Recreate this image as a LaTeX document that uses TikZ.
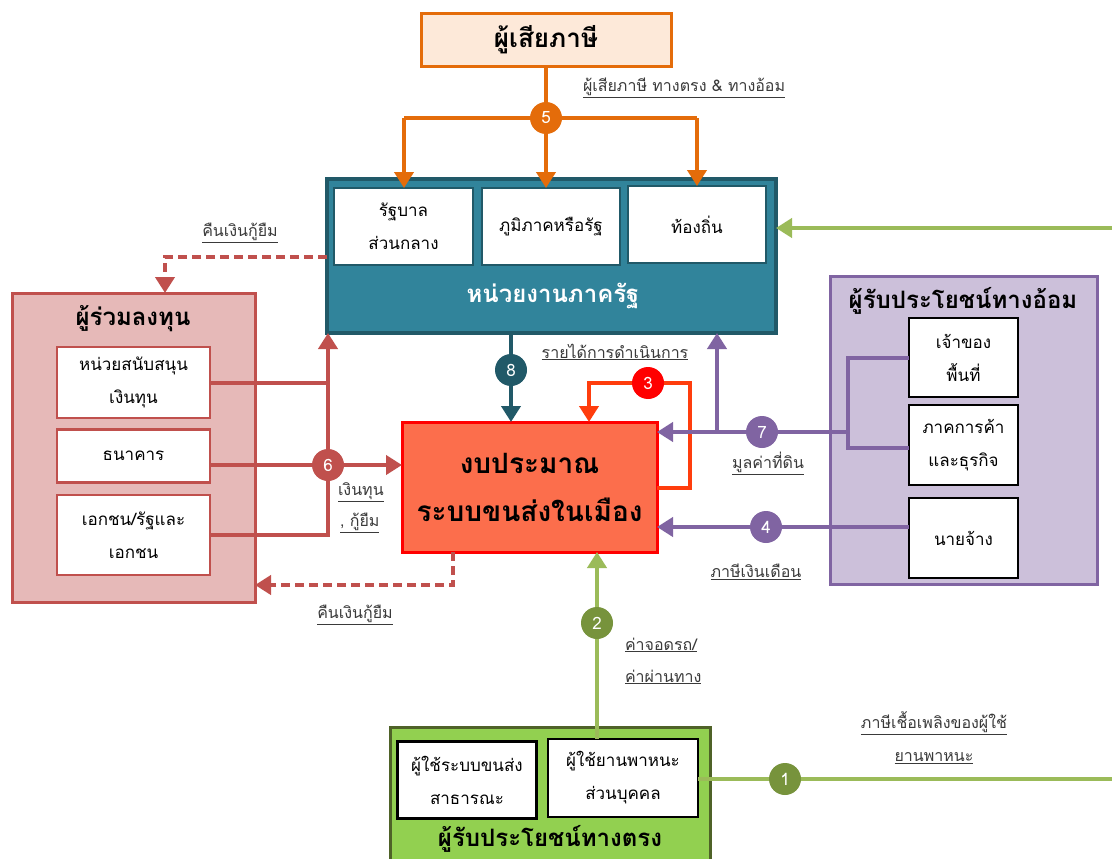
\documentclass[tikz,border=0pt]{standalone}
\usepackage{fontspec}
\setmainfont[Script=Thai]{Loma}
\usetikzlibrary{arrows.meta}
\definecolor{taxOrange}{HTML}{E46C0A}
\definecolor{taxFill}{HTML}{FDE9D9}
\definecolor{govTeal}{HTML}{31849B}
\definecolor{govDark}{HTML}{215968}
\definecolor{invRed}{HTML}{C0504D}
\definecolor{invFill}{HTML}{E6B9B8}
\definecolor{budFill}{HTML}{FC6E4C}
\definecolor{budLine}{HTML}{FF0000}
\definecolor{loopRed}{HTML}{FF3D0D}
\definecolor{indPurple}{HTML}{8064A2}
\definecolor{indFill}{HTML}{CCC0DA}
\definecolor{dirGreen}{HTML}{9BBB59}
\definecolor{dirFill}{HTML}{92D050}
\definecolor{dirDark}{HTML}{4F6228}
\definecolor{numGreen}{HTML}{77933C}
\definecolor{lblGrey}{HTML}{3A3A3A}
\begin{document}
\begin{tikzpicture}[x=1pt,y=-1pt,
  every node/.style={inner sep=0pt,outer sep=0pt},
  frame/.style={draw,rectangle,line width=3pt},
  cell/.style={draw,rectangle,fill=white,line width=2.5pt,align=center,
    font=\fontsize{17}{33}\selectfont},
  title/.style={font=\bfseries\fontsize{24}{28}\selectfont},
  lbl/.style={text=lblGrey,align=left,font=\fontsize{16}{33}\selectfont},
  num/.style={circle,minimum size=32pt,text=white,font=\fontsize{17}{18}\selectfont},
  tip/.style={-{Triangle[width=19pt,length=16pt]}},
  conn/.style={line width=4pt}]
\clip (0,0) rectangle (1112,859);
\fill[white] (0,0) rectangle (1112,859);

% ---- boxes ----
\node[frame,draw=taxOrange,fill=taxFill,minimum width=250pt,minimum height=53pt,font=\bfseries\fontsize{26}{30}\selectfont] (tax) at (546,40) {ผู้เสียภาษี};

\node[frame,draw=govDark,fill=govTeal,line width=4pt,minimum width=449pt,minimum height=154pt] (gov) at (551.5,256) {};
\node[cell,draw=govDark,minimum width=139pt,minimum height=77pt] (gov1) at (403.5,226.5) {รัฐบาล\\ส่วนกลาง};
\node[cell,draw=govDark,minimum width=138pt,minimum height=77pt] (gov2) at (551,226.5) {ภูมิภาคหรือรัฐ};
\node[cell,draw=govDark,minimum width=138pt,minimum height=77pt] (gov3) at (697,224.5) {ท้องถิ่น};
\node[title,text=white] (govT) at (553,296) {หน่วยงานภาครัฐ};

\node[frame,draw=invRed,fill=invFill,minimum width=243pt,minimum height=309pt] (inv) at (133.5,447.5) {};
\node[title] (invT) at (133,319) {ผู้ร่วมลงทุน};
\node[cell,draw=invRed,minimum width=153pt,minimum height=71pt] (inv1) at (133.5,382.5) {หน่วยสนับสนุน\\เงินทุน};
\node[cell,draw=invRed,minimum width=153pt,minimum height=53pt] (inv2) at (133.5,456) {ธนาคาร};
\node[cell,draw=invRed,minimum width=153pt,minimum height=80pt] (inv3) at (133.5,535) {เอกชน/รัฐและ\\เอกชน};

\node[frame,draw=budLine,fill=budFill,minimum width=255pt,minimum height=130pt,align=center,
  font=\bfseries\fontsize{28}{48}\selectfont] (bud) at (529.5,487) {งบประมาณ\\ระบบขนส่งในเมือง};

\node[frame,draw=indPurple,fill=indFill,minimum width=267pt,minimum height=308pt] (ind) at (963.5,430) {};
\node[title] (indT) at (963,301) {ผู้รับประโยชน์ทางอ้อม};
\node[cell,draw=black,minimum width=109pt,minimum height=79pt] (ind1) at (963.5,357.5) {เจ้าของ\\พื้นที่};
\node[cell,draw=black,minimum width=109pt,minimum height=80pt] (ind2) at (963.5,445) {ภาคการค้า\\และธุรกิจ};
\node[cell,draw=black,minimum width=109pt,minimum height=80pt] (ind3) at (963.5,538) {นายจ้าง};

\node[frame,draw=dirDark,fill=dirFill,minimum width=320pt,minimum height=140pt] (dir) at (550,797) {};
\node[cell,draw=black,minimum width=139pt,minimum height=77pt] (dir1) at (467,780) {ผู้ใช้ระบบขนส่ง\\สาธารณะ};
\node[cell,draw=black,minimum width=150pt,minimum height=78pt] (dir2) at (623,778) {ผู้ใช้ยานพาหนะ\\ส่วนบุคคล};
\node[title] (dirT) at (550,839) {ผู้รับประโยชน์ทางตรง};

% ---- junction points ----
\coordinate (p5) at (546,118);
\coordinate (p5l) at (404,118);
\coordinate (p5r) at (697,118);
\coordinate (gE) at (1112,228);
\coordinate (p6) at (328,465);
\coordinate (d1) at (165,257);
\coordinate (d2) at (453,585);
\coordinate (p8) at (511,370);
\coordinate (l3a) at (690,488);
\coordinate (l3b) at (589,383);
\coordinate (p3) at (648,383);
\coordinate (p7) at (762,432);
\coordinate (j7) at (848,432);
\coordinate (jb) at (848,448);
\coordinate (v7) at (717,432);
\coordinate (p4) at (766,527);
\coordinate (p2) at (597,623);
\coordinate (p1) at (785,779);
\coordinate (gE2) at (1112,779);

% ---- taxpayers ----
\draw[conn,taxOrange] (tax.south) -- (p5);
\draw[conn,taxOrange] (p5l) -- (p5r);
\draw[conn,taxOrange,tip] (p5l) -- (p5l |- gov1.north);
\draw[conn,taxOrange,tip] (p5) -- (p5 |- gov2.north);
\draw[conn,taxOrange,tip] (p5r) -- (p5r |- gov3.north);

% ---- fuel tax to local government ----
\draw[conn,dirGreen,tip] (gE) -- (gE -| gov.east);

% ---- co-investors ----
\draw[conn,invRed] (inv1.east) -- (inv1.east -| p6);
\draw[conn,invRed,tip] (inv3.east) -| (p6 |- gov.south);
\draw[conn,invRed,tip] (inv2.east |- p6) -- (bud.west |- p6);
\draw[conn,invRed,dash pattern=on 9pt off 5pt,tip] (gov.west |- d1) -| (inv.north -| d1);
\draw[conn,invRed,dash pattern=on 9pt off 5pt,tip] (bud.south -| d2) |- (inv.east |- d2);

% ---- government to budget ----
\draw[conn,govDark,tip] (gov.south -| p8) -- (bud.north -| p8);

% ---- operating revenue loop ----
\draw[conn,loopRed,tip] (bud.east |- l3a) -- (l3a) |- (l3b) -- (bud.north -| l3b);

% ---- indirect beneficiaries ----
\draw[conn,indPurple] (ind1.west) -| (jb) -- (ind2.west |- jb);
\draw[conn,indPurple,tip] (j7) -- (bud.east |- j7);
\draw[conn,indPurple,tip] (v7) -- (gov.south -| v7);
\draw[conn,indPurple,tip] (ind3.west |- p4) -- (bud.east |- p4);

% ---- direct beneficiaries ----
\draw[conn,dirGreen,tip] (dir2.north -| p2) -- (bud.south -| p2);
\draw[conn,dirGreen] (dir2.east |- p1) -- (gE2);

% ---- numbered markers ----
\node[num,fill=taxOrange] (n5) at (p5) {5};
\node[num,fill=invRed] (n6) at (p6) {6};
\node[num,fill=govDark] (n8) at (p8) {8};
\node[num,fill=budLine] (n3) at (p3) {3};
\node[num,fill=indPurple] (n7) at (p7) {7};
\node[num,fill=indPurple] (n4) at (p4) {4};
\node[num,fill=numGreen] (n2) at (p2) {2};
\node[num,fill=numGreen] (n1) at (p1) {1};

% ---- flow labels ----
\node[lbl,anchor=west] (l5) at (583,88) {\underline{ผู้เสียภาษี ทางตรง \& ทางอ้อม}};
\node[lbl] (lrepay1) at (240,233) {\underline{คืนเงินกู้ยืม}};
\node[lbl] (lrepay2) at (355,615) {\underline{คืนเงินกู้ยืม}};
\node[lbl,anchor=west] (lfund1) at (338,492) {\underline{เงินทุน}};
\node[lbl,anchor=west] (lfund2) at (340,523) {\underline{, กู้ยืม}};
\node[lbl] (lrev) at (615,352) {\underline{รายได้การดำเนินการ}};
\node[lbl] (lland) at (768,463) {\underline{มูลค่าที่ดิน}};
\node[lbl] (lsal) at (756,572) {\underline{ภาษีเงินเดือน}};
\node[lbl,anchor=west] (lpark1) at (625,645) {\underline{ค่าจอดรถ/}};
\node[lbl,anchor=west] (lpark2) at (625,677) {\underline{ค่าผ่านทาง}};
\node[lbl,align=center] (lfuel) at (934,738) {\underline{ภาษีเชื้อเพลิงของผู้ใช้}\\\underline{ยานพาหนะ}};
\end{tikzpicture}
\end{document}
